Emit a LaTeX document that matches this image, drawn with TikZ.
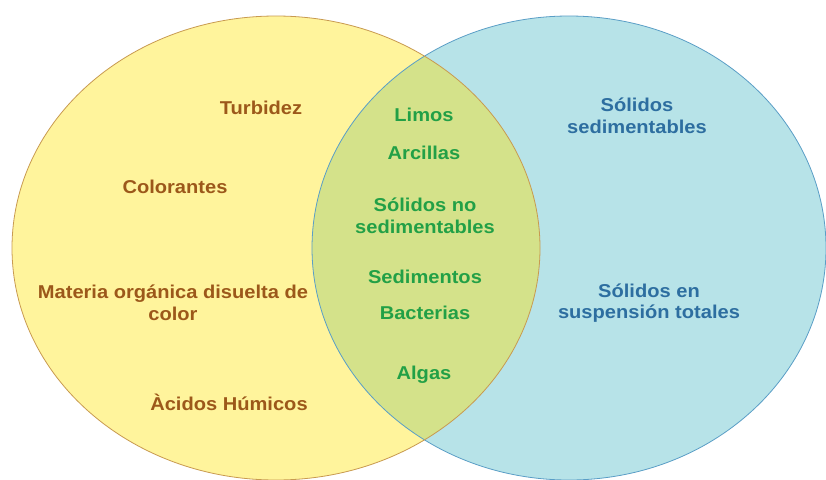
\documentclass[tikz,border=0pt]{standalone}
\usepackage{fontspec}
\setmainfont{Liberation Sans}[FakeStretch=1.08]
\definecolor{yellowfill}{HTML}{FFF49C}
\definecolor{yellowline}{HTML}{C89A50}
\definecolor{bluefill}{HTML}{B7E3E8}
\definecolor{blueline}{HTML}{5A9EC6}
\definecolor{lensfill}{HTML}{D4E28A}
\definecolor{browntext}{HTML}{9C581A}
\definecolor{greentext}{HTML}{22A046}
\definecolor{bluetext}{HTML}{2D6EA0}
\tikzset{
  label/.style={align=center,inner sep=0pt,font=\fontsize{18.6}{21.5}\selectfont\bfseries},
  brownlabel/.style={label,text=browntext},
  greenlabel/.style={label,text=greentext},
  bluelabel/.style={label,text=bluetext}
}
\begin{document}
\begin{tikzpicture}[x=1pt,y=-1pt]
\useasboundingbox (0,0) rectangle (826,479);
\fill[white] (0,0) rectangle (826,479);
\fill[yellowfill] (276,248) ellipse[x radius=264pt,y radius=232pt];
\fill[bluefill] (569,248) ellipse[x radius=257pt,y radius=232pt];
\begin{scope}
\clip (276,248) ellipse[x radius=264pt,y radius=232pt];
\fill[lensfill] (569,248) ellipse[x radius=257pt,y radius=232pt];
\end{scope}
\draw[blueline,line width=0.8pt] (569,248) ellipse[x radius=257pt,y radius=232pt];
\draw[yellowline,line width=0.8pt] (276,248) ellipse[x radius=264pt,y radius=232pt];
% left set
\node[brownlabel] (turbidez) at (261,108) {Turbidez};
\node[brownlabel] (colorantes) at (175,187) {Colorantes};
\node[brownlabel] (materia) at (173,303) {Materia orgánica disuelta de\\color};
\node[brownlabel] (acidos) at (229,402) {Àcidos Húmicos};
% overlap
\node[greenlabel] (limos) at (424,115) {Limos};
\node[greenlabel] (arcillas) at (424,153) {Arcillas};
\node[greenlabel] (nosedim) at (425,216) {Sólidos no\\sedimentables};
\node[greenlabel] (sedimentos) at (425,277) {Sedimentos};
\node[greenlabel] (bacterias) at (425,313) {Bacterias};
\node[greenlabel] (algas) at (424,375) {Algas};
% right set
\node[bluelabel] (sedim) at (637,116) {Sólidos\\sedimentables};
\node[bluelabel] (totales) at (649,303) {Sólidos en\\suspensión totales};
\end{tikzpicture}
\end{document}
